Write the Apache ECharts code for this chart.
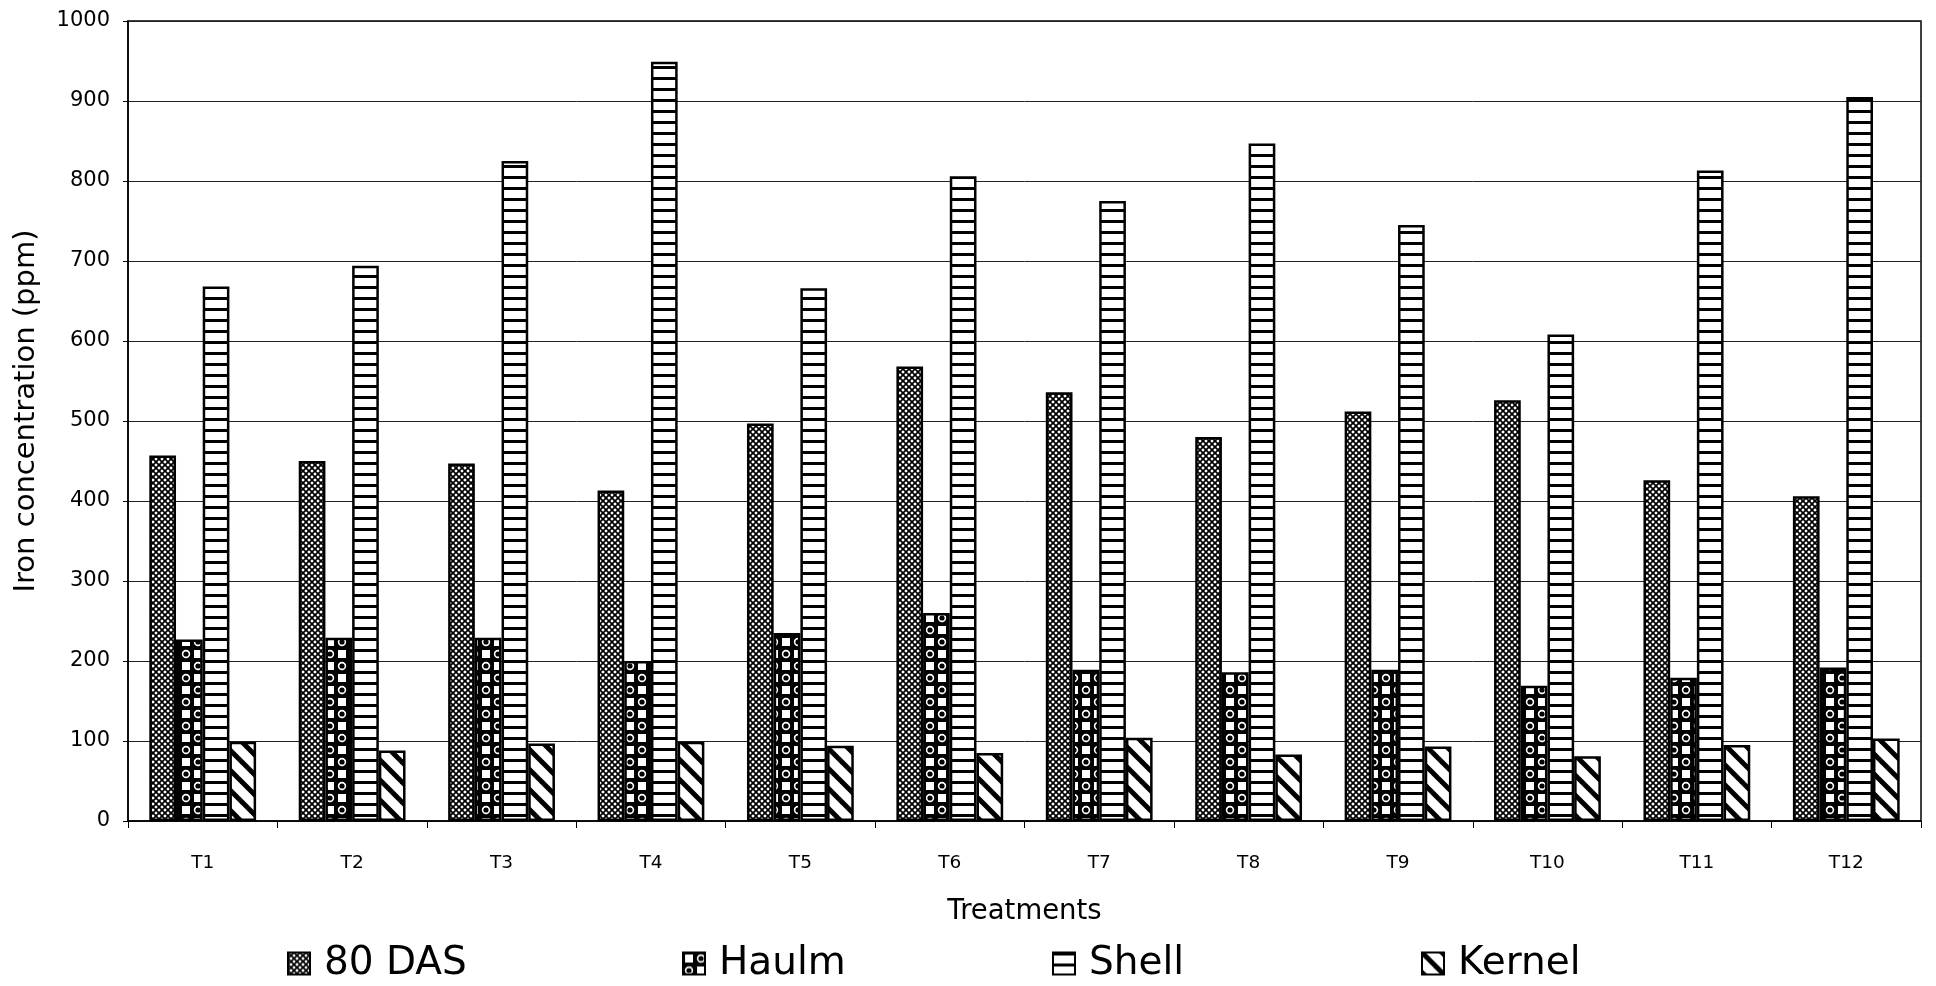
<!DOCTYPE html>
<html>
<head>
<meta charset="utf-8">
<title>Iron concentration by treatment</title>
<script src="https://cdn.jsdelivr.net/npm/echarts@6/dist/echarts.min.js"></script>
<style>
  html, body { margin: 0; padding: 0; background: #fff; }
  #chart { width: 1936px; height: 986px; }
</style>
</head>
<body>
<div id="chart"></div>
<script>
// Treatments on the category axis
const categories = ['T1', 'T2', 'T3', 'T4', 'T5', 'T6', 'T7', 'T8', 'T9', 'T10', 'T11', 'T12'];

// Iron concentration (ppm) per plant part
const das80  = [457, 450, 447, 413, 497, 568, 536, 480, 512, 526, 426, 406];
const haulm  = [227, 229, 229, 200, 235, 260, 189, 186, 189, 169, 179, 192];
const shell  = [668, 694, 825, 949, 666, 806, 775, 847, 745, 608, 813, 905];
const kernel = [99, 88, 97, 99, 94, 85, 104, 83, 93, 81, 95, 103];

const seriesNames = ['80 DAS', 'Haulm', 'Shell', 'Kernel'];
const yTicks = { min: 0, max: 1000, interval: 100 };

const FONT = 'DejaVu Sans';

// ---- fill patterns (black on white) ----
function tile(w, h, draw) {
  const c = document.createElement('canvas');
  c.width = w; c.height = h;
  const g = c.getContext('2d');
  g.fillStyle = '#fff';
  g.fillRect(0, 0, w, h);
  g.fillStyle = '#000';
  g.strokeStyle = '#000';
  draw(g, w, h);
  return { image: c, repeat: 'repeat' };
}

// diagonal cross-hatch lattice
const crossHatch = tile(6, 6, (g, w) => {
  g.lineWidth = 1.7;
  for (let k = -w; k <= w; k += w) {
    g.beginPath(); g.moveTo(k, 0); g.lineTo(k + w, w); g.stroke();
    g.beginPath(); g.moveTo(k + w, 0); g.lineTo(k, w); g.stroke();
  }
});

// dark checker: white blocks and white rings on black
const spheres = tile(24, 24, (g) => {
  g.fillStyle = '#000';
  g.fillRect(0, 0, 24, 24);
  g.fillStyle = '#fff';
  g.fillRect(2, 2, 8, 8);
  g.fillRect(14, 14, 8, 8);
  g.strokeStyle = '#fff';
  g.lineWidth = 1.6;
  g.beginPath(); g.arc(18, 6, 3.4, 0, Math.PI * 2); g.stroke();
  g.beginPath(); g.arc(6, 18, 3.4, 0, Math.PI * 2); g.stroke();
});

// horizontal stripes
const hStripes = tile(8, 11, (g, w) => {
  g.fillRect(0, 0, w, 3);
});

// wide backslash stripes
const bStripes = tile(20, 20, (g, w) => {
  g.lineWidth = 5;
  for (let k = -w; k <= w; k += w) {
    g.beginPath(); g.moveTo(k - 2, -2); g.lineTo(k + w + 2, w + 2); g.stroke();
  }
});

const fills = [crossHatch, spheres, hStripes, bStripes];
const values = [das80, haulm, shell, kernel];

const series = seriesNames.map((name, i) => ({
  name,
  type: 'bar',
  data: values[i],
  barWidth: 26.7,
  barGap: '0%',
  itemStyle: { color: fills[i], borderColor: '#000', borderWidth: 2.5 },
  emphasis: { disabled: true }
}));

// one legend per entry so each sits at its own spot on the bottom row
const legendLeft = [287, 682, 1052, 1421];
const legends = seriesNames.map((name, i) => ({
  data: [name],
  left: legendLeft[i],
  top: 944,
  padding: 0,
  itemWidth: 22,
  itemHeight: 22,
  icon: 'rect',
  selectedMode: false,
  textStyle: { fontFamily: FONT, fontSize: 39, color: '#000', padding: [0, 0, 0, 9] }
}));

const chart = echarts.init(document.getElementById('chart'), null, { renderer: 'canvas' });
chart.setOption({
  backgroundColor: '#fff',
  animation: false,
  grid: {
    left: 128, right: 15, top: 21, bottom: 165,
    show: true, borderColor: '#000', borderWidth: 1.5, backgroundColor: 'transparent'
  },
  legend: legends,
  xAxis: {
    type: 'category',
    data: categories,
    name: 'Treatments',
    nameLocation: 'middle',
    nameGap: 77,
    nameTextStyle: { fontFamily: FONT, fontSize: 27.5, color: '#000' },
    axisLine: { lineStyle: { color: '#000', width: 1.5 } },
    axisTick: { show: true, length: 7, lineStyle: { color: '#000' } },
    axisLabel: { fontFamily: FONT, fontSize: 18.5, color: '#000', margin: 33 }
  },
  yAxis: {
    type: 'value',
    min: yTicks.min, max: yTicks.max, interval: yTicks.interval,
    name: 'Iron concentration (ppm)',
    nameLocation: 'middle',
    nameGap: 87,
    nameTextStyle: { fontFamily: FONT, fontSize: 29, color: '#000', padding: [0, 0, 0, 20] },
    axisLine: { show: true, lineStyle: { color: '#000', width: 1.5 } },
    axisTick: { show: true, length: 5, lineStyle: { color: '#000' } },
    axisLabel: {
      fontFamily: FONT, fontSize: 21, color: '#000', margin: 18,
      formatter: (v) => String(v)
    },
    splitLine: { show: true, lineStyle: { color: '#222', width: 1 } }
  },
  series
});
</script>
</body>
</html>
